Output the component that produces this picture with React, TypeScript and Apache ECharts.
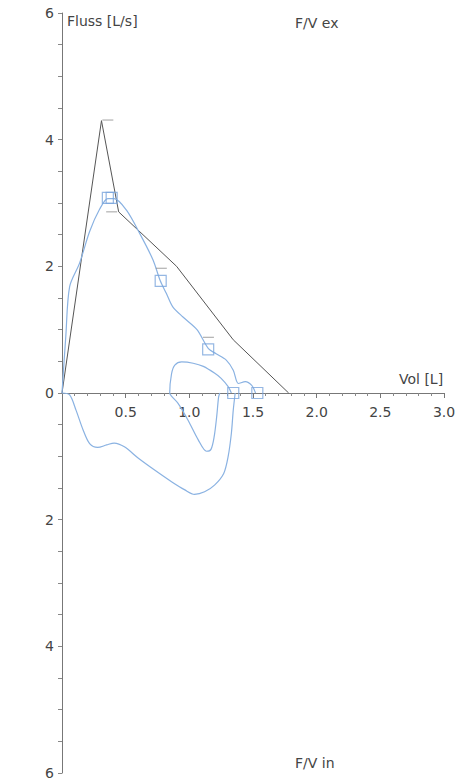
import React, { useEffect, useRef } from "react";
import * as echarts from "echarts";

// Volume ticks (L) and flow range (L/s)
const volTicks = [0, 0.5, 1.0, 1.5, 2.0, 2.5, 3.0];
const flowMin = -6;
const flowMax = 6;

// Predicted expiratory curve (black polyline)
const predicted: number[][] = [
  [0, 0], [0.31, 4.3], [0.445, 2.86], [0.9, 2.0], [1.345, 0.84], [1.78, 0],
];

// Limit dashes
const limitMarks: number[][] = [
  [0.36, 4.31], [0.39, 2.86], [0.78, 1.97], [1.15, 0.88],
];

// Measured expiration (blue)
const expiration: number[][] = [
  [0, 0], [0.03, 0.9], [0.06, 1.68], [0.138, 2.05], [0.217, 2.55], [0.295, 2.9],
  [0.36, 3.07], [0.41, 3.07], [0.505, 2.89], [0.61, 2.52], [0.715, 2.1],
  [0.77, 1.78], [0.82, 1.57], [0.87, 1.36], [0.95, 1.2], [1.06, 1.0],
  [1.15, 0.7], [1.21, 0.62], [1.29, 0.52], [1.345, 0.36], [1.385, 0.15],
  [1.44, 0.18], [1.49, 0.12], [1.52, 0],
];

// Measured inspiration loop (blue)
const inspiration: number[][] = [
  [0, 0], [0.06, -0.03], [0.11, -0.27], [0.165, -0.58], [0.217, -0.8],
  [0.28, -0.86], [0.35, -0.82], [0.41, -0.79], [0.49, -0.85], [0.6, -1.03],
  [0.73, -1.22], [0.86, -1.4], [0.965, -1.53], [1.04, -1.6], [1.12, -1.56],
  [1.2, -1.45], [1.27, -1.27], [1.305, -1.0], [1.33, -0.64], [1.345, -0.27],
  [1.36, 0],
];

// Second small loop (blue)
const smallLoop: number[][] = [
  [1.24, 0], [1.23, -0.06], [1.215, -0.37], [1.195, -0.69], [1.17, -0.89],
  [1.135, -0.92], [1.07, -0.74], [0.99, -0.43], [0.91, -0.16], [0.86, -0.05],
  [0.846, 0], [0.86, 0.3], [0.886, 0.44], [0.94, 0.49], [1.03, 0.47],
  [1.11, 0.42], [1.2, 0.31], [1.25, 0.23], [1.305, 0.1], [1.33, 0],
];

// Measured points (hollow squares)
const measuredPoints: number[][] = [
  [0.36, 3.08], [0.39, 3.08], [0.775, 1.77], [1.148, 0.69], [1.345, 0], [1.534, 0],
];

const BLUE = "#8ab2e2";
const TEXT = "#444";
const FONT = "DejaVu Sans";
const GRID_H = 760;

export default function App() {
  const ref = useRef<HTMLDivElement>(null);
  useEffect(() => {
    if (!ref.current) return;
    const chart = echarts.init(ref.current, null, { renderer: "svg" });
    const blueLine = (data: number[][]) => ({
      type: "line",
      data,
      smooth: 0.3,
      showSymbol: false,
      symbol: "none",
      lineStyle: { color: BLUE, width: 1.2 },
      z: 3,
    });
    chart.setOption({
      animation: false,
      backgroundColor: "#fff",
      textStyle: { fontFamily: FONT },
      grid: {
        left: 62,
        top: 13,
        width: 382,
        height: GRID_H,
        containLabel: false,
        outerBoundsMode: "none",
      },
      xAxis: {
        type: "value",
        position: "bottom",
        min: volTicks[0],
        max: volTicks[volTicks.length - 1],
        interval: 0.5,
        offset: -GRID_H / 2,
        axisLine: { onZero: false, lineStyle: { color: "#777", width: 1 } },
        axisTick: { show: true, length: 5, lineStyle: { color: "#777" } },
        minorTick: { show: true, splitNumber: 5, length: 3, lineStyle: { color: "#888" } },
        splitLine: { show: false },
        minorSplitLine: { show: false },
        axisLabel: {
          color: TEXT,
          fontSize: 14,
          fontFamily: FONT,
          margin: 12,
          formatter: (v: number) => (v === 0 ? "" : v.toFixed(1)),
        },
      },
      yAxis: {
        type: "value",
        min: flowMin,
        max: flowMax,
        interval: 0.5,
        axisLine: { show: true, onZero: false, lineStyle: { color: "#777", width: 1 } },
        axisTick: { show: true, length: 4, lineStyle: { color: "#888" } },
        splitLine: { show: false },
        axisLabel: {
          color: TEXT,
          fontSize: 14,
          fontFamily: FONT,
          margin: 8,
          formatter: (v: number) => (Math.abs(v) % 2 === 0 ? String(Math.abs(v)) : ""),
        },
      },
      graphic: [
        { type: "text", left: 67, top: 14, style: { text: "Fluss [L/s]", fill: TEXT, font: `14px "${FONT}"` } },
        { type: "text", left: 295, top: 16, style: { text: "F/V ex", fill: TEXT, font: `14px "${FONT}"` } },
        { type: "text", left: 295, top: 756, style: { text: "F/V in", fill: TEXT, font: `14px "${FONT}"` } },
        { type: "text", left: 399, top: 372, style: { text: "Vol [L]", fill: TEXT, font: `14px "${FONT}"` } },
      ],
      series: [
        {
          type: "line",
          data: predicted,
          showSymbol: false,
          symbol: "none",
          lineStyle: { color: "#555", width: 1 },
          z: 2,
        },
        blueLine(expiration),
        blueLine(inspiration),
        blueLine(smallLoop),
        {
          type: "scatter",
          data: limitMarks,
          symbol: "rect",
          symbolSize: [11, 1],
          itemStyle: { color: "#888" },
          z: 4,
        },
        {
          type: "scatter",
          data: measuredPoints,
          symbol: "rect",
          symbolSize: 11,
          itemStyle: { color: "rgba(255,255,255,0)", borderColor: "#7aa5dc", borderWidth: 1.2 },
          z: 5,
        },
      ],
    });
    return () => chart.dispose();
  }, []);
  return (
    <div
      ref={ref}
      style={{ position: "fixed", left: 0, top: 0, width: 457, height: 783 }}
    />
  );
}
